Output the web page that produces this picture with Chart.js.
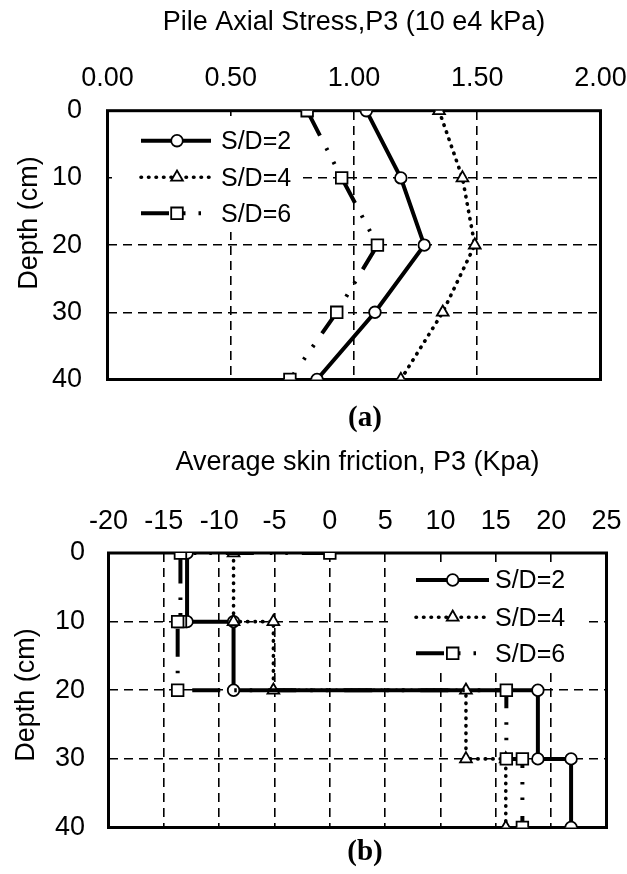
<!DOCTYPE html>
<html>
<head>
<meta charset="utf-8">
<script src="https://cdn.jsdelivr.net/npm/chart.js@4.4.0/dist/chart.umd.min.js"></script>
<style>
body { margin: 0; background: #fff; width: 627px; height: 874px; position: relative; overflow: hidden; }
.box { position: absolute; left: 0; width: 660px; }
#boxA { top: 0; height: 440px; }
#boxB { top: 440px; height: 434px; }
.cap { position: absolute; width: 80px; text-align: center; line-height: 1; font-family: "Liberation Serif", "Times New Roman", serif; font-weight: bold; font-size: 29px; color: #000; }
</style>
</head>
<body>
<div class="box" id="boxA"><canvas id="chartA"></canvas></div>
<div class="box" id="boxB"><canvas id="chartB"></canvas></div>
<div class="cap" style="left:325px; top:402px;">(a)</div>
<div class="cap" style="left:325px; top:836px;">(b)</div>
<script>
const FONT = '"Liberation Sans", Arial, sans-serif'

// (a) axial stress vs depth
const depths = [0, 10, 20, 30, 40]
const stressSD2 = [1.05, 1.19, 1.285, 1.085, 0.85]
const stressSD4 = [1.345, 1.44, 1.49, 1.36, 1.19]
const stressSD6 = [0.81, 0.95, 1.095, 0.93, 0.74]
const stressTicks = [0, 0.5, 1, 1.5, 2]

// (b) skin friction, stepped profiles
const frictionDepth = [0, 10, 10, 20, 20, 30, 30, 40]
const frictionSD2 = [-12.9, -12.9, -8.7, -8.7, 18.8, 18.8, 21.8, 21.8]
const frictionSD4 = [-8.7, -8.7, -5.1, -5.1, 12.3, 12.3, 15.9, 15.9]
const frictionDepth6 = [0, 0, 10, 10, 20, 20, 30, 30, 40]
const frictionSD6 = [0, -13.5, -13.5, -13.75, -13.75, 15.95, 15.95, 17.4, 17.4]
const frictionTicks = [-20, -15, -10, -5, 0, 5, 10, 15, 20, 25]

const depthTicks = [0, 10, 20, 30, 40]
const seriesNames = ['S/D=2', 'S/D=4', 'S/D=6']

function pts(xs, ys) {
    return xs.map((v, i) => ({ x: v, y: ys[i] }))
}

const styleSD2 = { borderColor: '#000', borderWidth: 4, pointStyle: 'circle', pointRadius: 5.8, pointBorderWidth: 1.8, pointBackgroundColor: '#fff', pointBorderColor: '#000', order: 3 }
const styleSD4 = { borderColor: '#000', borderWidth: 3.6, borderDash: [0.5, 7], borderCapStyle: 'round', pointStyle: 'triangle', pointRadius: 6.8, pointBorderWidth: 1.8, pointBackgroundColor: '#fff', pointBorderColor: '#000', order: 2 }
const styleSD6 = { borderColor: '#000', borderWidth: 4, borderDash: [28, 14, 2.5, 13, 2.5, 16], pointStyle: 'rect', pointRadius: 8.2, pointBorderWidth: 1.8, pointBackgroundColor: '#fff', pointBorderColor: '#000', order: 1 }

// border box, legend with white background, rotated y title
const frame = {
    id: 'frame',
    beforeDatasetsDraw(chart, args, opts) {
        const ctx = chart.ctx, a = chart.chartArea, lg = opts.legend
        ctx.save()
        ctx.fillStyle = '#fff'
        ctx.fillRect(lg.x, lg.y, lg.w, lg.h)
        ctx.strokeStyle = '#000'
        ctx.lineWidth = 3
        ctx.setLineDash([])
        ctx.strokeRect(a.left, a.top, a.right - a.left, a.bottom - a.top)
        chart.data.datasets.forEach((ds, i) => {
            const y = lg.rows[i]
            ctx.beginPath()
            ctx.setLineDash(ds.borderDash || [])
            ctx.lineCap = ds.borderCapStyle || 'butt'
            ctx.lineWidth = ds.borderWidth
            ctx.moveTo(lg.x0, y)
            ctx.lineTo(lg.x1, y)
            ctx.stroke()
            ctx.setLineDash([])
            ctx.fillStyle = '#fff'
            ctx.lineWidth = ds.pointBorderWidth
            Chart.helpers.drawPoint(ctx, { pointStyle: ds.pointStyle, radius: ds.pointRadius, borderWidth: ds.pointBorderWidth, rotation: 0 }, lg.mx, y)
            ctx.fillStyle = '#000'
            ctx.font = '25px ' + FONT
            ctx.textAlign = 'left'
            ctx.textBaseline = 'middle'
            ctx.fillText(ds.label, lg.tx, y + 1.5)
        })
        ctx.restore()
    },
    afterDraw(chart, args, opts) {
        const ctx = chart.ctx, t = opts.yTitle
        ctx.save()
        ctx.translate(t.x, t.y)
        ctx.rotate(-Math.PI / 2)
        ctx.fillStyle = '#000'
        ctx.font = '27px ' + FONT
        ctx.textAlign = 'center'
        ctx.textBaseline = 'alphabetic'
        ctx.fillText('Depth (cm)', 0, 0)
        ctx.restore()
    }
}

function axes(xTicks, xFmt, xTitle, xHeight, xPad, titlePad, yWidth, yPad) {
    const grid = { color: '#000', lineWidth: 1.6, drawTicks: false, borderDash: [9, 6] }
    const border = { display: false, dash: [9, 6] }
    return {
        x: {
            type: 'linear', position: 'top',
            min: xTicks[0], max: xTicks[xTicks.length - 1],
            afterFit: s => { s.height = xHeight },
            afterBuildTicks: s => { s.ticks = xTicks.map(v => ({ value: v })) },
            ticks: { padding: xPad, color: '#000', font: { size: 27, family: FONT }, maxRotation: 0, autoSkip: false, callback: xFmt },
            grid: grid, border: border,
            title: { display: true, text: xTitle, color: '#000', font: { size: 27, family: FONT }, padding: { top: titlePad, bottom: 0 } }
        },
        y: {
            type: 'linear', reverse: true,
            min: 0, max: 40,
            afterFit: s => { s.width = yWidth },
            afterBuildTicks: s => { s.ticks = depthTicks.map(v => ({ value: v })) },
            ticks: { padding: yPad, color: '#000', font: { size: 27, family: FONT }, autoSkip: false },
            grid: grid, border: border
        }
    }
}

// canvases are wider/taller than the page so the label overhang padding
// chart.js reserves falls outside the visible picture
const chartA = new Chart(document.querySelector('#chartA'), {
    type: 'scatter',
    data: {
        datasets: [
            Object.assign({ label: seriesNames[0], showLine: true, data: pts(stressSD2, depths) }, styleSD2),
            Object.assign({ label: seriesNames[1], showLine: true, data: pts(stressSD4, depths) }, styleSD4),
            Object.assign({ label: seriesNames[2], showLine: true, data: pts(stressSD6, depths) }, styleSD6)
        ]
    },
    options: {
        responsive: true, maintainAspectRatio: false, animation: false,
        layout: { autoPadding: false, padding: { top: 0, left: 0, right: 59.5, bottom: 60.5 } },
        scales: axes(stressTicks, v => Number(v).toFixed(2), 'Pile Axial Stress,P3 (10 e4 kPa)', 110.7, 16, 6, 107.5, 25.5),
        plugins: {
            legend: { display: false },
            tooltip: { enabled: false },
            frame: {
                legend: { x: 112, y: 116, w: 188, h: 116, rows: [140.7, 177.3, 213.3], x0: 141, x1: 211, mx: 177, tx: 221 },
                yTitle: { x: 37, y: 223 }
            }
        }
    },
    plugins: [frame]
})

const chartB = new Chart(document.querySelector('#chartB'), {
    type: 'scatter',
    data: {
        datasets: [
            Object.assign({ label: seriesNames[0], showLine: true, data: pts(frictionSD2, frictionDepth) }, styleSD2),
            Object.assign({ label: seriesNames[1], showLine: true, data: pts(frictionSD4, frictionDepth) }, styleSD4),
            Object.assign({ label: seriesNames[2], showLine: true, data: pts(frictionSD6, frictionDepth6) }, styleSD6)
        ]
    },
    options: {
        responsive: true, maintainAspectRatio: false, animation: false,
        layout: { autoPadding: false, padding: { top: 0, left: 0, right: 53.5, bottom: 46.5 } },
        scales: axes(frictionTicks, v => String(v), 'Average skin friction, P3 (Kpa)', 113, 14.8, 6, 108.5, 23.5),
        plugins: {
            legend: { display: false },
            tooltip: { enabled: false },
            frame: {
                legend: { x: 388, y: 122, w: 200, h: 111, rows: [140, 177.3, 213.3], x0: 416, x1: 489, mx: 452.7, tx: 495 },
                yTitle: { x: 33.5, y: 255 }
            }
        }
    },
    plugins: [frame]
})
</script>
</body>
</html>
